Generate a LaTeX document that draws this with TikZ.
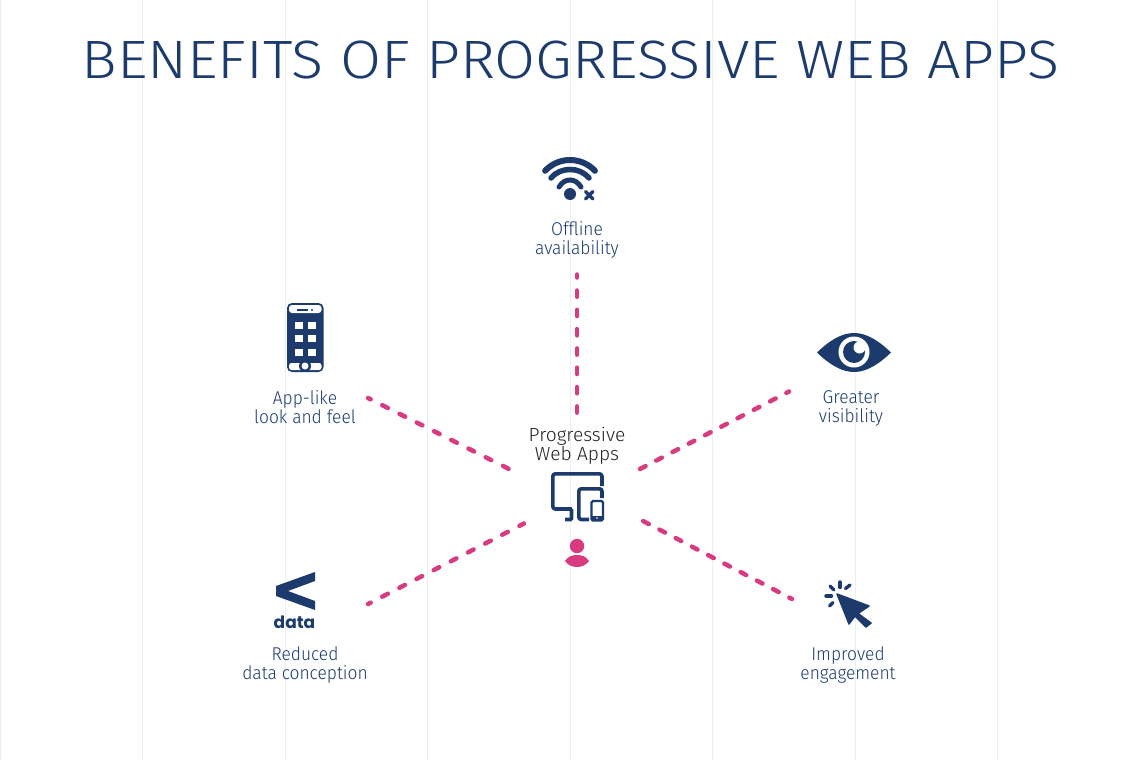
\documentclass[tikz,border=0pt]{standalone}
\usepackage{fontspec}
\setmainfont{Fira Sans Light}[FakeStretch=0.94]
\newfontfamily\titlefont{Fira Sans Light}[FakeStretch=1.1]
\newfontfamily\centerfont{Fira Sans Light}[FakeStretch=1.01]
\newfontfamily\datafont{Poppins Bold}
\definecolor{navy}{HTML}{1C3B6C}
\definecolor{pinkc}{HTML}{D83B80}
\definecolor{gridc}{HTML}{ECEEF0}
\definecolor{inkc}{HTML}{222222}
\tikzset{
  gridline/.style={draw=gridc,line width=1pt},
  lbl/.style={align=center,text=navy,inner sep=0pt,font=\fontsize{18.5}{19}\selectfont},
  conn/.style={draw=pinkc,line width=4.5pt,line cap=round,dash pattern=on 6.3pt off 13pt,dash phase=3.3pt},
  connb/.style={conn,dash pattern=on 6.3pt off 12.03pt,dash phase=3.3pt},
  iconline/.style={draw=navy,line width=3.6pt},
}
\begin{document}
\begin{tikzpicture}[x=1pt,y=-1pt]
\useasboundingbox (0,0) rectangle (1140,760);
\fill[white] (0,0) rectangle (1140,760);
\foreach \gx in {0.5,142,285,427,570,712,855,997}{\draw[gridline] (\gx,0) -- (\gx,760);}
\node[inner sep=0pt,text=navy,font=\titlefont\fontsize{54}{54}\selectfont] (title) at (570.5,60) {BENEFITS OF PROGRESSIVE WEB APPS};
% labels
\node[lbl] (off) at (577,240) {Offline\\availability};
\node[lbl] (app) at (305,407) {App-like\\look and feel};
\node[lbl] (vis) at (851,408.5) {Greater\\visibility};
\node[lbl] (red) at (305,665) {Reduced\\data conception};
\node[lbl] (imp) at (848,665) {Improved\\engagement};
\node[lbl,text=inkc,font=\centerfont\fontsize{19}{19}\selectfont] (pwa) at (577,445.5) {Progressive\\Web Apps};
% connector ends
\coordinate (c1) at (577,413.5); \coordinate (o1) at (577,274.5);
\coordinate (c2) at (510,469.5); \coordinate (o2) at (368,398);
\coordinate (c3) at (640,469); \coordinate (o3) at (789,391.5);
\coordinate (c4) at (524,523.5); \coordinate (o4) at (368,604);
\coordinate (c5) at (643,521); \coordinate (o5) at (792,599);
\draw[conn] (o1) -- (c1);
\draw[conn] (o2) -- (c2);
\draw[connb] (o3) -- (c3);
\draw[conn] (o4) -- (c4);
\draw[connb] (o5) -- (c5);
% wifi
\fill[navy] (570,194) circle (6);
\begin{scope}[draw=navy,line cap=round]
\draw[line width=6pt] (545.1,170.8) .. controls (552,163.5) and (561,160) .. (570,160) .. controls (579,160) and (588,163.5) .. (594.9,170.8);
\draw[line width=5.5pt] (551,178) .. controls (556,172) and (563,169.5) .. (570,169.5) .. controls (577,169.5) and (584,172) .. (589,178);
\draw[line width=5pt] (559,187) .. controls (562,182) and (566,180) .. (570,180) .. controls (574,180) and (578,182) .. (581,187);
\draw[line width=3.4pt] (585.5,191.5) -- (593,199) (593,191.5) -- (585.5,199);
\end{scope}
% devices
\draw[iconline,line join=round,rounded corners=2.5pt] (602,486) -- (602,473.8) -- (552.8,473.8) -- (552.8,509) -- (572,509);
\draw[iconline,rounded corners=1pt] (571.5,509) -- (571.5,519.5) -- (565,519.5);
\draw[iconline,rounded corners=2.5pt] (589,519.5) -- (578.8,519.5) -- (578.8,488.8) -- (602,488.8) -- (602,498);
\draw[navy,line width=2.4pt,rounded corners=1.5pt] (591.5,501) rectangle (603,520.5);
\fill[navy] (591,515.5) rectangle (603,521);
\fill[white] (597,518) circle (0.8);
% person
\fill[pinkc] (577,546) circle (7.2);
\fill[pinkc] (565,561) .. controls (568,556.5) and (572,555) .. (577,555) .. controls (582,555) and (586,556.5) .. (589,561) .. controls (586,565) and (582,567) .. (577,567) .. controls (572,567) and (568,565) .. (565,561) -- cycle;
% phone
\fill[navy,rounded corners=5pt] (287,303) rectangle (323.5,372);
\fill[white,rounded corners=3pt] (289,305) -- (321.5,305) -- (321.5,313) -- (289,313) -- cycle;
\fill[navy] (297,309.2) rectangle (308,311);
\fill[navy] (312,310) circle (1.2);
\fill[white,rounded corners=2.5pt] (289,363) rectangle (321.5,370);
\fill[navy] (305,366) circle (6);
\fill[white] (305,366) circle (3.5);
\foreach \qx in {295,308}{\foreach \qy in {322,335,349}{\fill[white] (\qx,\qy) rectangle ++(7.5,7);}}
% eye
\fill[navy] (817,352.5) .. controls (830,340) and (842,333) .. (854,333) .. controls (866,333) and (878,340) .. (891,352.5) .. controls (878,365) and (866,372) .. (854,372) .. controls (842,372) and (830,365) .. (817,352.5) -- cycle;
\fill[white] (854,352) circle (15.5);
\fill[navy] (854,352) circle (11);
\fill[white] (859.5,347.5) circle (6);
% less than
\fill[navy] (315,572) -- (276,586) -- (276,596) -- (315,610) -- (315,601) -- (288,591) -- (315,581) -- cycle;
\node[inner sep=0pt,text=navy,font=\datafont\fontsize{17}{17}\selectfont] (dat) at (294.5,622) {data};
% cursor
\fill[navy,draw=navy,line width=1.5pt,line join=round] (837,594) -- (869,606) -- (858,613.5) -- (871,623) -- (866,627) -- (855,616) -- (849,624) -- cycle;
\begin{scope}[draw=navy,line width=3.4pt,line cap=round]
\draw (840,582) -- (840,587.5);
\draw (845.5,588.5) -- (850,585);
\draw (830,586) -- (834,590);
\draw (826,596) -- (831.5,596);
\draw (829.5,606) -- (833,602.5);
\end{scope}
\end{tikzpicture}
\end{document}
